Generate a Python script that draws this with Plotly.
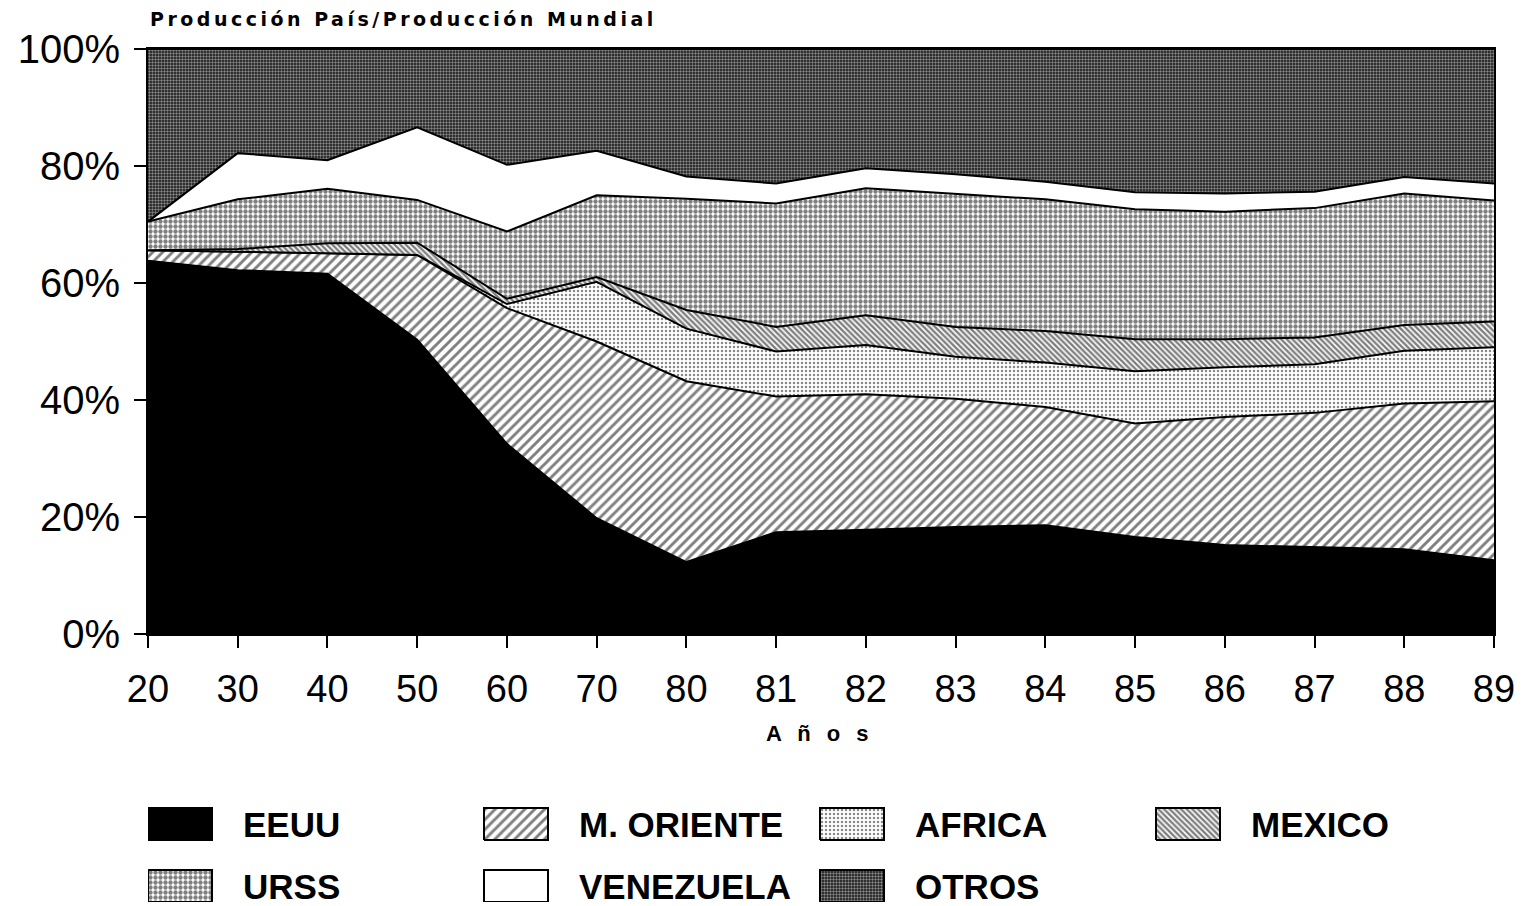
import plotly.graph_objects as go

# Share of world oil production by producer (percent of total)
years = ["20", "30", "40", "50", "60", "70", "80", "81", "82", "83", "84", "85", "86", "87", "88", "89"]
eeuu = [63.8, 62.2, 61.6, 50.3, 32.5, 19.8, 12.3, 17.4, 17.8, 18.3, 18.6, 16.6, 15.2, 14.9, 14.5, 12.6]
m_oriente = [1.8, 3.2, 3.5, 14.5, 23.2, 30.2, 30.9, 23.2, 23.2, 21.9, 20.2, 19.4, 21.9, 22.9, 24.9, 27.2]
africa = [0, 0, 0, 0, 0.7, 10.2, 9.0, 7.7, 8.4, 7.2, 7.6, 8.9, 8.5, 8.3, 9.0, 9.2]
mexico = [0, 0.4, 1.7, 2.1, 0.9, 0.8, 3.2, 4.2, 5.1, 5.1, 5.4, 5.5, 4.8, 4.6, 4.4, 4.4]
urss = [4.9, 8.5, 9.3, 7.3, 11.5, 14.0, 19.0, 21.1, 21.7, 22.8, 22.5, 22.2, 21.8, 22.1, 22.5, 20.7]
venezuela = [0, 7.9, 4.9, 12.4, 11.4, 7.6, 3.8, 3.4, 3.4, 3.3, 3.0, 2.9, 3.1, 2.8, 2.8, 2.9]
otros = [29.5, 17.8, 19.0, 13.4, 19.8, 17.4, 21.8, 23.0, 20.4, 21.4, 22.7, 24.5, 24.7, 24.4, 21.9, 23.0]

series_names = ["EEUU", "M. ORIENTE", "AFRICA", "MEXICO", "URSS", "VENEZUELA", "OTROS"]
series_values = [eeuu, m_oriente, africa, mexico, urss, venezuela, otros]

y_ticks = [0, 20, 40, 60, 80, 100]
y_tick_text = ["0%", "20%", "40%", "60%", "80%", "100%"]

# Fill style for each band (solid colour or hatch / dot pattern)
styles = {
    "EEUU": dict(fillcolor="#000000", fillpattern=None),
    "M. ORIENTE": dict(fillcolor="#ffffff",
                       fillpattern=dict(shape="/", fgcolor="#000", bgcolor="#fff", size=7, solidity=0.42)),
    "AFRICA": dict(fillcolor="#ffffff",
                   fillpattern=dict(shape=".", fgcolor="#111", bgcolor="#fff", size=4, solidity=0.3)),
    "MEXICO": dict(fillcolor="#ffffff",
                   fillpattern=dict(shape="\\", fgcolor="#000", bgcolor="#fff", size=4, solidity=0.6)),
    "URSS": dict(fillcolor="#ffffff",
                 fillpattern=dict(shape=".", fgcolor="#000", bgcolor="#fff", size=5, solidity=0.6)),
    "VENEZUELA": dict(fillcolor="#ffffff", fillpattern=None),
    "OTROS": dict(fillcolor="#444444",
                  fillpattern=dict(shape=".", fgcolor="#fff", bgcolor="#111", size=3, solidity=0.5)),
}

FONT = "Liberation Sans"
W, H = 1526, 906
ML, MR, MT, MB = 148, 32, 49, 4
plot_h = H - MT - MB
plot_bottom_px = 634
y_dom0 = (H - MB - plot_bottom_px) / plot_h

fig = go.Figure()

# Stacked areas
for name, vals in zip(series_names, series_values):
    st = styles[name]
    kw = dict(
        x=years, y=vals, name=name, mode="lines", stackgroup="one",
        line=dict(color="black", width=2), fillcolor=st["fillcolor"],
        showlegend=False, hoverinfo="x+y+name",
    )
    if st["fillpattern"] is not None:
        kw["fillpattern"] = st["fillpattern"]
    fig.add_trace(go.Scatter(**kw))

# Legend drawn as swatches on a helper axis below the chart (units = pixels)
col_step, box_w, box_h, text_gap = 336, 64, 32, 93
row_base = [62, 0]
for i, name in enumerate(series_names):
    col, row = i % 4, i // 4
    x0 = col * col_step
    y0 = row_base[row]
    st = styles[name]
    kw = dict(
        x=[x0, x0 + box_w, x0 + box_w, x0, x0],
        y=[y0, y0, y0 + box_h, y0 + box_h, y0],
        xaxis="x2", yaxis="y2", mode="lines", fill="toself",
        fillcolor=st["fillcolor"], line=dict(color="black", width=2),
        showlegend=False, hoverinfo="skip",
    )
    if st["fillpattern"] is not None:
        kw["fillpattern"] = st["fillpattern"]
    fig.add_trace(go.Scatter(**kw))
    fig.add_annotation(
        x=x0 + text_gap, y=y0 + box_h / 2, xref="x2", yref="y2",
        text=name, showarrow=False, xanchor="left", yanchor="middle",
        font=dict(family=FONT, size=35, color="black", weight="bold"),
    )

fig.update_layout(
    width=W, height=H,
    margin=dict(l=ML, r=MR, t=MT, b=MB, autoexpand=False),
    paper_bgcolor="white", plot_bgcolor="white",
    showlegend=False,
    xaxis=dict(
        type="category", range=[0, len(years) - 1],
        domain=[0, 1], anchor="y",
        showline=True, linecolor="black", linewidth=2, mirror=True,
        ticks="outside", ticklen=12, tickwidth=2, tickcolor="black",
        showgrid=False, zeroline=False,
        tickfont=dict(family=FONT, size=38, color="black"),
        ticklabelstandoff=8,
    ),
    yaxis=dict(
        range=[0, 100], domain=[y_dom0, 1], anchor="x",
        tickvals=y_ticks, ticktext=y_tick_text,
        showline=True, linecolor="black", linewidth=2, mirror=True,
        ticks="outside", ticklen=12, tickwidth=2, tickcolor="black",
        showgrid=False, zeroline=False,
        tickfont=dict(family=FONT, size=40, color="black"),
        ticklabelstandoff=6,
    ),
    xaxis2=dict(
        domain=[0, 1], anchor="y2", range=[0, W - ML - MR],
        visible=False, fixedrange=True,
    ),
    yaxis2=dict(
        domain=[0, (H - MB - 800) / plot_h], anchor="x2", range=[0, H - MB - 800],
        visible=False, fixedrange=True,
    ),
)

# Chart title (top-left) and x-axis title
fig.add_annotation(
    x=0, y=(H - MB - 19) / plot_h, xref="paper", yref="paper",
    text='<span style="letter-spacing:3.5px">Producción País/Producción Mundial</span>',
    showarrow=False, xanchor="left", yanchor="middle",
    font=dict(family="DejaVu Sans", size=19, color="black", weight="bold"),
)
fig.add_annotation(
    x=(820 - ML) / (W - ML - MR), y=(H - MB - 733) / plot_h, xref="paper", yref="paper",
    text='<span style="letter-spacing:5px">A ñ o s</span>',
    showarrow=False, xanchor="center", yanchor="middle",
    font=dict(family=FONT, size=22, color="black", weight="bold"),
)

fig.write_html("out.html")
